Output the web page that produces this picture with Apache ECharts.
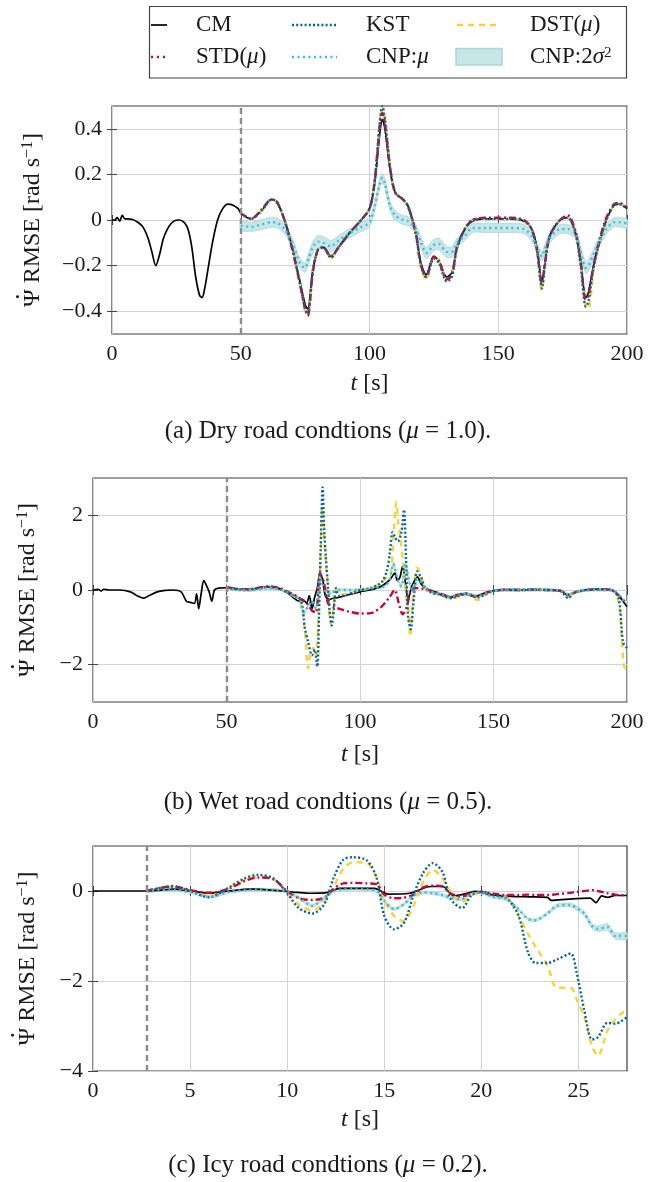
<!DOCTYPE html>
<html><head><meta charset="utf-8">
<script src="https://cdn.jsdelivr.net/npm/echarts@6/dist/echarts.min.js"></script>
<style>html,body{margin:0;padding:0;background:#fff}#c{width:656px;height:1182px}</style>
</head><body><div id="c"></div>
<script>
// ---------------- Panel (a) dry road ----------------
const tCmPreA = [0,1,2,3,4,5,6,8,10,12,14,15.5,17,18.5,20,22,24,26,28,29.5,31,32.5,34,35,36,37.5,39,41,43,45,47,49];
const cmPreA  = [0,0,0.01,-0.005,0.02,0.005,0.005,0.002,-0.01,-0.03,-0.08,-0.14,-0.2,-0.15,-0.08,-0.03,-0.005,0.0,-0.01,-0.04,-0.12,-0.25,-0.33,-0.34,-0.3,-0.2,-0.1,0.0,0.05,0.07,0.065,0.05];
const tPostA = [50,54,58,62,64,67,70,73,75,76,78,80,82,85,88,92,96,100,102,104,105,106,108,110,113,115,118,120,122,125,127,130,132,134,137,140,145,150,155,160,163,165,167,168,170,174,177,180,182,184,185,187,189,192,195,197,200];
const cmPostA = [0.03,0.005,0.04,0.09,0.08,0.0,-0.12,-0.27,-0.37,-0.39,-0.22,-0.13,-0.12,-0.16,-0.12,-0.06,-0.01,0.05,0.16,0.38,0.44,0.40,0.22,0.12,0.09,0.06,-0.06,-0.19,-0.24,-0.16,-0.18,-0.25,-0.23,-0.12,-0.04,-0.005,0.005,0.005,0.005,-0.005,-0.04,-0.12,-0.27,-0.2,-0.07,0.0,0.01,-0.06,-0.18,-0.34,-0.32,-0.2,-0.11,0.0,0.065,0.07,0.05];
const stdA = [0.03,0.005,0.045,0.09,0.08,0.0,-0.13,-0.28,-0.39,-0.42,-0.23,-0.13,-0.12,-0.16,-0.12,-0.06,-0.01,0.05,0.17,0.41,0.47,0.42,0.23,0.12,0.09,0.06,-0.06,-0.2,-0.25,-0.16,-0.18,-0.26,-0.24,-0.12,-0.04,0.0,0.01,0.01,0.01,0.0,-0.04,-0.13,-0.28,-0.2,-0.07,0.0,0.02,-0.05,-0.18,-0.35,-0.33,-0.2,-0.1,0.01,0.07,0.075,0.055];
const kstA = [0.03,0.005,0.04,0.09,0.08,0.0,-0.12,-0.28,-0.39,-0.41,-0.22,-0.13,-0.12,-0.165,-0.12,-0.06,-0.01,0.05,0.17,0.43,0.50,0.44,0.23,0.12,0.09,0.06,-0.06,-0.2,-0.25,-0.17,-0.19,-0.27,-0.25,-0.12,-0.04,0.0,0.005,0.005,0.005,-0.005,-0.04,-0.13,-0.3,-0.21,-0.07,0.0,0.01,-0.06,-0.2,-0.38,-0.36,-0.21,-0.11,0.0,0.065,0.07,0.05];
const dstA = [0.03,0.005,0.04,0.09,0.08,0.0,-0.12,-0.28,-0.40,-0.42,-0.22,-0.13,-0.12,-0.17,-0.12,-0.06,-0.01,0.05,0.17,0.43,0.50,0.45,0.24,0.12,0.09,0.06,-0.06,-0.21,-0.26,-0.17,-0.18,-0.26,-0.24,-0.12,-0.04,0.0,0.005,0.005,0.005,-0.005,-0.04,-0.14,-0.31,-0.2,-0.07,0.0,0.01,-0.06,-0.2,-0.38,-0.39,-0.22,-0.11,0.0,0.065,0.07,0.05];
const cnpMuA = [-0.025,-0.03,-0.02,-0.01,-0.012,-0.04,-0.1,-0.19,-0.21,-0.18,-0.12,-0.095,-0.1,-0.115,-0.09,-0.06,-0.035,-0.01,0.06,0.16,0.185,0.16,0.06,0.02,0.0,-0.005,-0.04,-0.1,-0.145,-0.11,-0.105,-0.14,-0.14,-0.1,-0.07,-0.035,-0.035,-0.035,-0.035,-0.04,-0.07,-0.12,-0.16,-0.13,-0.08,-0.04,-0.04,-0.06,-0.14,-0.21,-0.2,-0.15,-0.1,-0.04,-0.01,-0.01,-0.015];
const cnpSigA = [0.02,0.02,0.022,0.022,0.022,0.02,0.02,0.02,0.02,0.022,0.025,0.028,0.028,0.025,0.022,0.02,0.02,0.02,0.02,0.02,0.02,0.02,0.02,0.02,0.02,0.02,0.02,0.022,0.025,0.025,0.025,0.025,0.022,0.02,0.02,0.02,0.02,0.02,0.02,0.02,0.02,0.02,0.02,0.02,0.02,0.02,0.02,0.02,0.022,0.025,0.025,0.022,0.02,0.02,0.02,0.02,0.02];

// ---------------- Panel (b) wet road ----------------
const tCmB = [0,2,3,4,6,10,14,17,19,21,24,27,30,33,35,36.5,38,38.8,39.6,40.5,41.5,42.5,43.5,44.5,45.5,47,50,52,56,60,64,67,70,73,75,77,78.5,80,81,82,83,84,85,86,87,88.5,90,92,95,100,105,108,110,111.5,113,114,115,116,117,118,119,120,121.5,123,125,128,131,134,137,140,143,146,150,155,160,165,170,175,178,180,183,187,192,195,197,198.5,200];
const cmB  = [0,0.02,-0.03,0.02,0,0,-0.05,-0.17,-0.22,-0.15,-0.05,-0.01,0,-0.05,-0.3,-0.33,-0.36,-0.1,-0.5,-0.1,0.25,0.12,-0.05,-0.3,0.0,0.05,0.06,0.05,0.02,0.03,0.08,0.08,0.03,-0.08,-0.2,-0.3,-0.25,-0.35,-0.15,-0.5,-0.2,0.05,0.4,0.3,-0.15,-0.25,-0.22,-0.2,-0.14,-0.05,0.02,0.1,0.2,0.3,0.45,0.25,0.35,0.65,0.2,-0.25,0.0,0.2,0.35,0.15,0.03,-0.05,-0.15,-0.2,-0.12,-0.12,-0.18,-0.1,-0.02,0.01,0.0,0.01,0.0,-0.02,-0.15,-0.08,-0.02,0.02,0.02,-0.02,-0.15,-0.3,-0.45];
const tStdB = [50,54,58,62,66,70,73,76,78,80,82,83.5,85,86.5,88,90,93,96,100,104,108,111,113,114.5,116,117.5,119,121,124,128,131,134,137,140,143,146,150,155,160,165,170,175,178,181,185,190,194,197,199,200];
const stdB  = [0.08,0.03,0.02,0.06,0.1,0.05,-0.05,-0.15,-0.25,-0.35,-0.55,-0.6,0.45,0.2,-0.35,-0.45,-0.52,-0.58,-0.63,-0.62,-0.45,-0.2,0.0,-0.35,-0.65,-0.45,-0.05,0.05,0.03,-0.05,-0.12,-0.2,-0.12,-0.1,-0.17,-0.1,-0.02,0.01,0.0,0.01,0.0,-0.02,-0.12,-0.05,0.0,0.02,0.0,-0.15,-0.3,-0.35];
const tKstB = [50,54,58,62,66,70,73,76,78,79.3,80.6,82,83,84,84.6,85.3,86,86.6,87.2,88,88.6,89.4,90.2,91,92,94,97,100,104,108,110,111.2,112.2,113.2,114.2,115.5,116.5,117.2,118,119,120,121.4,122.8,124.5,127,130,134,137,140,144,147,150,155,160,165,170,175,178,180,183,187,192,195,197,198.5,200];
const kstB  = [0.06,0.02,0.0,0.05,0.08,0.03,-0.08,-0.18,-0.28,-1.0,-1.4,-1.75,-1.6,-2.05,-0.8,1.2,2.75,1.6,0.9,0.1,-0.55,-0.95,-0.5,0.05,-0.15,-0.15,-0.08,0.0,0.05,0.2,0.5,1.0,1.55,1.4,1.3,1.55,2.15,0.9,-0.7,-1.05,-0.35,0.5,0.35,0.05,-0.08,-0.12,-0.22,-0.15,-0.1,-0.2,-0.12,-0.03,0.0,0.0,0.01,0.0,-0.02,-0.22,-0.08,-0.02,0.02,0.02,-0.03,-0.25,-1.4,-1.55];
const tDstB = [50,54,58,62,66,70,73,76,78,79.5,80.6,81.5,82.5,83.5,84.5,85.3,86,86.8,87.5,88.3,89,90,91,93,97,100,104,108,110,111.6,112.6,113.6,114.3,115,116.2,117.3,118.2,118.8,119.6,120.5,121.4,122.8,124.5,127,130,134,137,140,144,147,150,155,160,165,170,175,178,180,183,187,192,195,197,198.4,199.2,200];
const dstB  = [0.06,0.02,0.0,0.05,0.08,0.03,-0.08,-0.2,-0.35,-1.2,-2.1,-1.7,-1.55,-1.8,-0.5,1.0,2.2,1.1,0.5,-0.3,-0.9,-0.6,0.0,-0.12,-0.08,0.0,0.05,0.2,0.35,0.5,1.5,2.35,1.8,1.45,0.7,-0.2,-0.55,-1.25,-0.4,0.3,0.6,0.4,0.05,-0.08,-0.12,-0.22,-0.18,-0.1,-0.27,-0.12,-0.03,0.0,0.0,0.01,0.0,-0.02,-0.18,-0.08,-0.02,0.02,0.02,-0.03,-0.37,-1.7,-2.1,-2.0];
const tCnpB = [50,55,60,65,70,74,77,79,80.5,82,83.5,85,86,87,88.5,90,92,95,100,105,109,111,112.5,114,115.5,117,118.5,120,121.5,123,125,130,134,137,140,144,147,150,155,160,165,170,175,178,181,185,190,195,198,200];
const cnpMuB = [0.04,0.0,0.0,0.05,0.02,-0.1,-0.25,-0.6,-0.45,-0.3,-0.5,0.3,0.15,-0.05,-0.1,-0.05,0.0,0.0,0.0,0.05,0.1,0.25,0.7,0.3,0.1,0.7,0.2,-0.05,0.3,0.2,0.0,-0.1,-0.18,-0.12,-0.1,-0.16,-0.1,-0.02,0.0,0.0,0.0,0.0,-0.02,-0.12,-0.05,0.0,0.0,-0.02,-0.25,-0.35];
const cnpSigB = [0.03,0.03,0.03,0.03,0.03,0.04,0.04,0.05,0.05,0.05,0.05,0.05,0.05,0.04,0.04,0.03,0.03,0.03,0.03,0.03,0.04,0.04,0.05,0.05,0.05,0.05,0.05,0.04,0.04,0.04,0.03,0.03,0.03,0.03,0.03,0.03,0.03,0.03,0.03,0.03,0.03,0.03,0.03,0.03,0.03,0.03,0.03,0.03,0.04,0.04];

// ---------------- Panel (c) icy road ----------------
const tCmC = [0,1,2,2.75,3.5,4.2,5.0,6.0,7.0,8.2,9.7,10.5,11.2,12.1,12.7,13.5,14.5,15.2,16.3,17.4,18.0,18.6,19.2,19.7,20.5,21.5,22.5,23.4,23.6,24.5,25.6,25.9,26.2,26.5,26.9,27.5];
const cmC  = [0,0,0,0,0.02,0.04,0.0,-0.05,0.0,0.04,0.0,-0.03,-0.05,-0.03,0.06,0.06,0.06,-0.07,-0.05,0.1,0.1,-0.11,-0.06,-0.01,-0.08,-0.12,-0.13,-0.14,-0.21,-0.18,-0.16,-0.26,-0.11,-0.14,-0.1,-0.1];
const tPostC = [2.75,3.4,4.1,5.0,6.0,7.0,7.8,8.5,9.3,10.0,10.6,11.3,11.9,12.4,12.9,13.4,14.1,14.6,15.0,15.5,16.0,16.5,17.0,17.5,18.0,18.4,19.0,19.5,20.0,20.6,21.3,21.9,22.4,22.8,23.4,23.9,24.6,24.9,25.3,25.7,26.0,26.5,26.9,27.5];
const stdC = [0.0,0.06,0.11,0.02,-0.04,0.05,0.22,0.3,0.26,0.0,-0.16,-0.2,-0.15,0.05,0.17,0.18,0.17,0.15,-0.08,-0.16,-0.15,-0.08,0.08,0.12,0.1,-0.05,-0.12,-0.05,-0.02,-0.06,-0.09,-0.09,-0.08,-0.09,-0.09,-0.07,-0.04,-0.02,0.0,0.02,0.0,-0.05,-0.08,-0.1];
const kstC = [0.0,0.06,0.1,0.0,-0.14,0.08,0.28,0.36,0.28,-0.05,-0.38,-0.5,-0.3,0.3,0.7,0.75,0.68,0.3,-0.55,-0.85,-0.72,-0.1,0.4,0.62,0.42,-0.16,-0.38,-0.09,-0.01,-0.09,-0.16,-0.53,-1.36,-1.6,-1.6,-1.52,-1.39,-1.8,-2.65,-3.3,-3.25,-2.93,-2.95,-2.8];
const dstC = [0.0,0.07,0.1,0.01,-0.11,0.08,0.25,0.32,0.26,-0.05,-0.3,-0.43,-0.25,0.1,0.5,0.64,0.62,0.3,-0.2,-0.55,-0.67,-0.34,0.2,0.47,0.28,0.0,-0.25,-0.1,-0.03,-0.05,-0.14,-0.55,-0.95,-1.25,-1.65,-2.15,-2.15,-2.4,-2.8,-3.45,-3.66,-3.1,-2.85,-2.62];
const cnpMuC = [0.0,0.02,0.03,-0.02,-0.13,-0.02,0.02,0.03,0.02,-0.01,-0.15,-0.33,-0.16,0.0,0.04,0.05,0.04,0.0,-0.22,-0.4,-0.3,-0.1,-0.03,-0.05,-0.09,-0.15,-0.18,-0.05,-0.04,-0.13,-0.18,-0.4,-0.62,-0.65,-0.5,-0.33,-0.31,-0.38,-0.5,-0.78,-0.84,-0.8,-1.0,-1.0];
const cnpSigC = [0.03,0.03,0.03,0.03,0.03,0.03,0.03,0.03,0.03,0.03,0.03,0.03,0.03,0.03,0.03,0.03,0.03,0.03,0.03,0.03,0.03,0.03,0.03,0.03,0.03,0.03,0.03,0.03,0.03,0.03,0.03,0.03,0.03,0.03,0.03,0.04,0.04,0.05,0.05,0.06,0.06,0.07,0.07,0.07];

// ---------------- Axes / labels ----------------
const xTicksA = [0,50,100,150,200];
const yTicksA = [-0.4,-0.2,0,0.2,0.4];
const xTicksB = [0,50,100,150,200];
const yTicksB = [-2,0,2];
const xTicksC = [0,5,10,15,20,25];
const yTicksC = [-4,-2,0];
const splitTimes = [50,50,2.75];
const legendNames = ['CM','STD(μ)','KST','CNP:μ','DST(μ)','CNP:2σ²'];
const captions = [
  ['(a) Dry road condtions (', 'μ', ' = 1.0).'],
  ['(b) Wet road condtions (', 'μ', ' = 0.5).'],
  ['(c) Icy road condtions (', 'μ', ' = 0.2).']
];

const FONT = "'Liberation Serif','DejaVu Serif',serif";
const FS = 22;      // tick labels
const FN = 24;      // axis titles
const FL = 23;      // legend
const FC = 25;      // captions
const C = {cm:'#000000', std:'#c8083c', kst:'#00679c', cnp:'#3cbcd8', dst:'#fbd231', band:'#c6e6e8', bandEdge:'#a9d7da', grid:'#d2d2d2'};

const pairs = (t, v) => t.map((x, i) => [x, v[i]]);
const fmt = v => (v < 0 ? '−' + String(-v) : String(v));

const panels = [
  {grid:{left:112, top:106, width:515, height:228}, xr:[0,200], yr:[-0.5,0.5], xt:xTicksA, yt:yTicksA, yGap:66, xGap:38,
   cm:pairs(tCmPreA.concat(tPostA), cmPreA.concat(cmPostA)), std:pairs(tPostA, stdA), kst:pairs(tPostA, kstA), dst:pairs(tPostA, dstA),
   cnpT:tPostA, mu:cnpMuA, sig:cnpSigA, capY:431},
  {grid:{left:93, top:478, width:534, height:224}, xr:[0,200], yr:[-3,3], xt:xTicksB, yt:yTicksB, yGap:52, xGap:41,
   cm:pairs(tCmB, cmB), std:pairs(tStdB, stdB), kst:pairs(tKstB, kstB), dst:pairs(tDstB, dstB),
   cnpT:tCnpB, mu:cnpMuB, sig:cnpSigB, capY:802},
  {grid:{left:93, top:846, width:534, height:225}, xr:[0,27.5], yr:[-4,1], xt:xTicksC, yt:yTicksC, yGap:52, xGap:37,
   cm:pairs(tCmC, cmC), std:pairs(tPostC, stdC), kst:pairs(tPostC, kstC), dst:pairs(tPostC, dstC),
   cnpT:tPostC, mu:cnpMuC, sig:cnpSigC, capY:1165}
];

const grid = [], xAxis = [], yAxis = [], series = [], graphic = [];
const labelStyle = {fontFamily: FONT, fontSize: FS, color: '#1a1a1a'};
const nameStyle = {fontFamily: FONT, fontSize: FN, color: '#1a1a1a'};

panels.forEach((p, g) => {
  grid.push(Object.assign({show:true, borderColor:'#3c3c3c', borderWidth:1.2, backgroundColor:'rgba(0,0,0,0)',
    outerBoundsMode:'none', containLabel:false}, p.grid));
  const tick = vals => ({show:true, inside:true, length:5, lineStyle:{color:'#444', width:1}, customValues: vals});
  xAxis.push({gridIndex:g, type:'value', position:'bottom', min:p.xr[0], max:p.xr[1],
    axisLine:{show:false}, axisTick:tick(p.xt),
    splitLine:{show:true, lineStyle:{color:C.grid, width:1}},
    axisLabel:Object.assign({margin:9, formatter:fmt, customValues:p.xt}, labelStyle),
    name:'{i|t} [s]', nameLocation:'middle', nameGap:p.xGap,
    nameTextStyle:Object.assign({rich:{i:Object.assign({fontStyle:'italic'}, nameStyle)}}, nameStyle)});
  xAxis.push({gridIndex:g, type:'value', position:'top', min:p.xr[0], max:p.xr[1],
    axisLine:{show:false}, axisTick:tick(p.xt), splitLine:{show:false}, axisLabel:{show:false, customValues:p.xt}});
  yAxis.push({gridIndex:g, type:'value', position:'left', min:p.yr[0], max:p.yr[1],
    axisLine:{show:false}, axisTick:tick(p.yt),
    splitLine:{show:true, lineStyle:{color:C.grid, width:1}},
    axisLabel:Object.assign({margin:10, formatter:fmt, customValues:p.yt}, labelStyle),
    name:'{d|·}\n{a|Ψ RMSE [rad s}{s|−1}{a|]}', nameLocation:'middle', nameRotate:90, nameGap:p.yGap,
    nameTextStyle:{rich:{
      a:Object.assign({lineHeight:26}, nameStyle),
      d:{fontFamily:FONT, fontSize:26, color:'#1a1a1a', lineHeight:1, align:'left', padding:[0,0,0,6]},
      s:{fontFamily:FONT, fontSize:16, color:'#1a1a1a', verticalAlign:'top', lineHeight:26}}}});
  yAxis.push({gridIndex:g, type:'value', position:'right', min:p.yr[0], max:p.yr[1],
    axisLine:{show:false}, axisTick:tick(p.yt), splitLine:{show:false}, axisLabel:{show:false, customValues:p.yt}});

  const base = {xAxisIndex:2*g, yAxisIndex:2*g, silent:true, animation:false};
  const line = Object.assign({type:'line', showSymbol:false, symbol:'none', smooth:0.3}, base);
  // CNP:2σ² band, drawn as one polygon through the axis scales
  series.push(Object.assign({}, base, {type:'custom', name:'CNP:2σ²', data:[[p.cnpT[0], p.mu[0]]], encode:{x:0, y:1},
    renderItem: (params, api) => {
      if (params.dataIndex !== 0) return null;
      const up = p.cnpT.map((t, i) => api.coord([t, p.mu[i] + p.sig[i]]));
      const lo = p.cnpT.map((t, i) => api.coord([t, p.mu[i] - p.sig[i]])).reverse();
      return {type:'polygon', shape:{points:up.concat(lo), smooth:0.25},
        style:{fill:C.band, stroke:C.bandEdge, lineWidth:0.8}};
    }}));
  series.push(Object.assign({}, line, {name:'CM', data:p.cm, lineStyle:{color:C.cm, width:1.7},
    markLine:{silent:true, symbol:['none','none'], label:{show:false}, animation:false,
      lineStyle:{color:'#8c8c8c', type:[6,4], width:2.4}, data:[{xAxis:splitTimes[g]}]}}));
  series.push(Object.assign({}, line, {name:'DST(μ)', data:p.dst, lineStyle:{color:C.dst, width:2.4, type:[6,5]}}));
  series.push(Object.assign({}, line, {name:'STD(μ)', data:p.std, lineStyle:{color:C.std, width:2.4, type:[7,3,2,3]}}));
  series.push(Object.assign({}, line, {name:'KST', data:p.kst, lineStyle:{color:C.kst, width:2.4, type:[2,2.2]}}));
  series.push(Object.assign({}, line, {name:'CNP:μ', data:p.cnpT.map((t, i) => [t, p.mu[i]]),
    lineStyle:{color:C.cnp, width:2.4, type:[2,3.5]}}));

  const cap = captions[g];
  graphic.push({type:'text', x:328, y:p.capY, silent:true,
    style:{text:'{n|' + cap[0] + '}{i|' + cap[1] + '}{n|' + cap[2] + '}', align:'center', verticalAlign:'middle',
      rich:{n:{fontFamily:FONT, fontSize:FC, fill:'#1a1a1a'}, i:{fontFamily:FONT, fontSize:FC, fontStyle:'italic', fill:'#1a1a1a'}}}});
});

// legend drawn as graphic
const rich = {n:{fontFamily:FONT, fontSize:FL, fill:'#1a1a1a'}, i:{fontFamily:FONT, fontSize:FL, fontStyle:'italic', fill:'#1a1a1a'},
  s:{fontFamily:FONT, fontSize:15, fill:'#1a1a1a', verticalAlign:'top', lineHeight:22}};
const legText = [
  '{n|' + legendNames[0] + '}',
  '{n|STD(}{i|μ}{n|)}',
  '{n|' + legendNames[2] + '}',
  '{n|CNP:}{i|μ}',
  '{n|DST(}{i|μ}{n|)}',
  '{n|CNP:2}{i|σ}{s|2}'
];
const legPos = [[196,25],[196,57],[366,25],[366,57],[530,25],[530,57]];
graphic.push({type:'rect', shape:{x:149.5, y:6.5, width:477, height:71.5}, style:{fill:'#fff', stroke:'#444', lineWidth:1.2}, silent:true});
graphic.push({type:'line', shape:{x1:151, y1:25, x2:167, y2:25}, style:{stroke:C.cm, lineWidth:1.7}, silent:true});
graphic.push({type:'line', shape:{x1:151, y1:57, x2:167, y2:57}, style:{stroke:C.std, lineWidth:2.4, lineDash:[2,4]}, silent:true});
graphic.push({type:'line', shape:{x1:292, y1:25, x2:337, y2:25}, style:{stroke:C.kst, lineWidth:2.4, lineDash:[2,2.2]}, silent:true});
graphic.push({type:'line', shape:{x1:292, y1:57, x2:337, y2:57}, style:{stroke:C.cnp, lineWidth:2.4, lineDash:[2,3.5]}, silent:true});
graphic.push({type:'line', shape:{x1:457, y1:25, x2:497, y2:25}, style:{stroke:C.dst, lineWidth:2.4, lineDash:[6,5]}, silent:true});
graphic.push({type:'rect', shape:{x:456, y:48.5, width:46, height:16.5}, style:{fill:C.band, stroke:C.bandEdge, lineWidth:1.5}, silent:true});
legText.forEach((t, k) => {
  graphic.push({type:'text', x:legPos[k][0], y:legPos[k][1], silent:true,
    style:{text:t, align:'left', verticalAlign:'middle', rich:rich}});
});

const chart = echarts.init(document.getElementById('c'), null, {renderer:'canvas'});
chart.setOption({animation:false, backgroundColor:'#fff', grid, xAxis, yAxis, series, graphic});
</script></body></html>
